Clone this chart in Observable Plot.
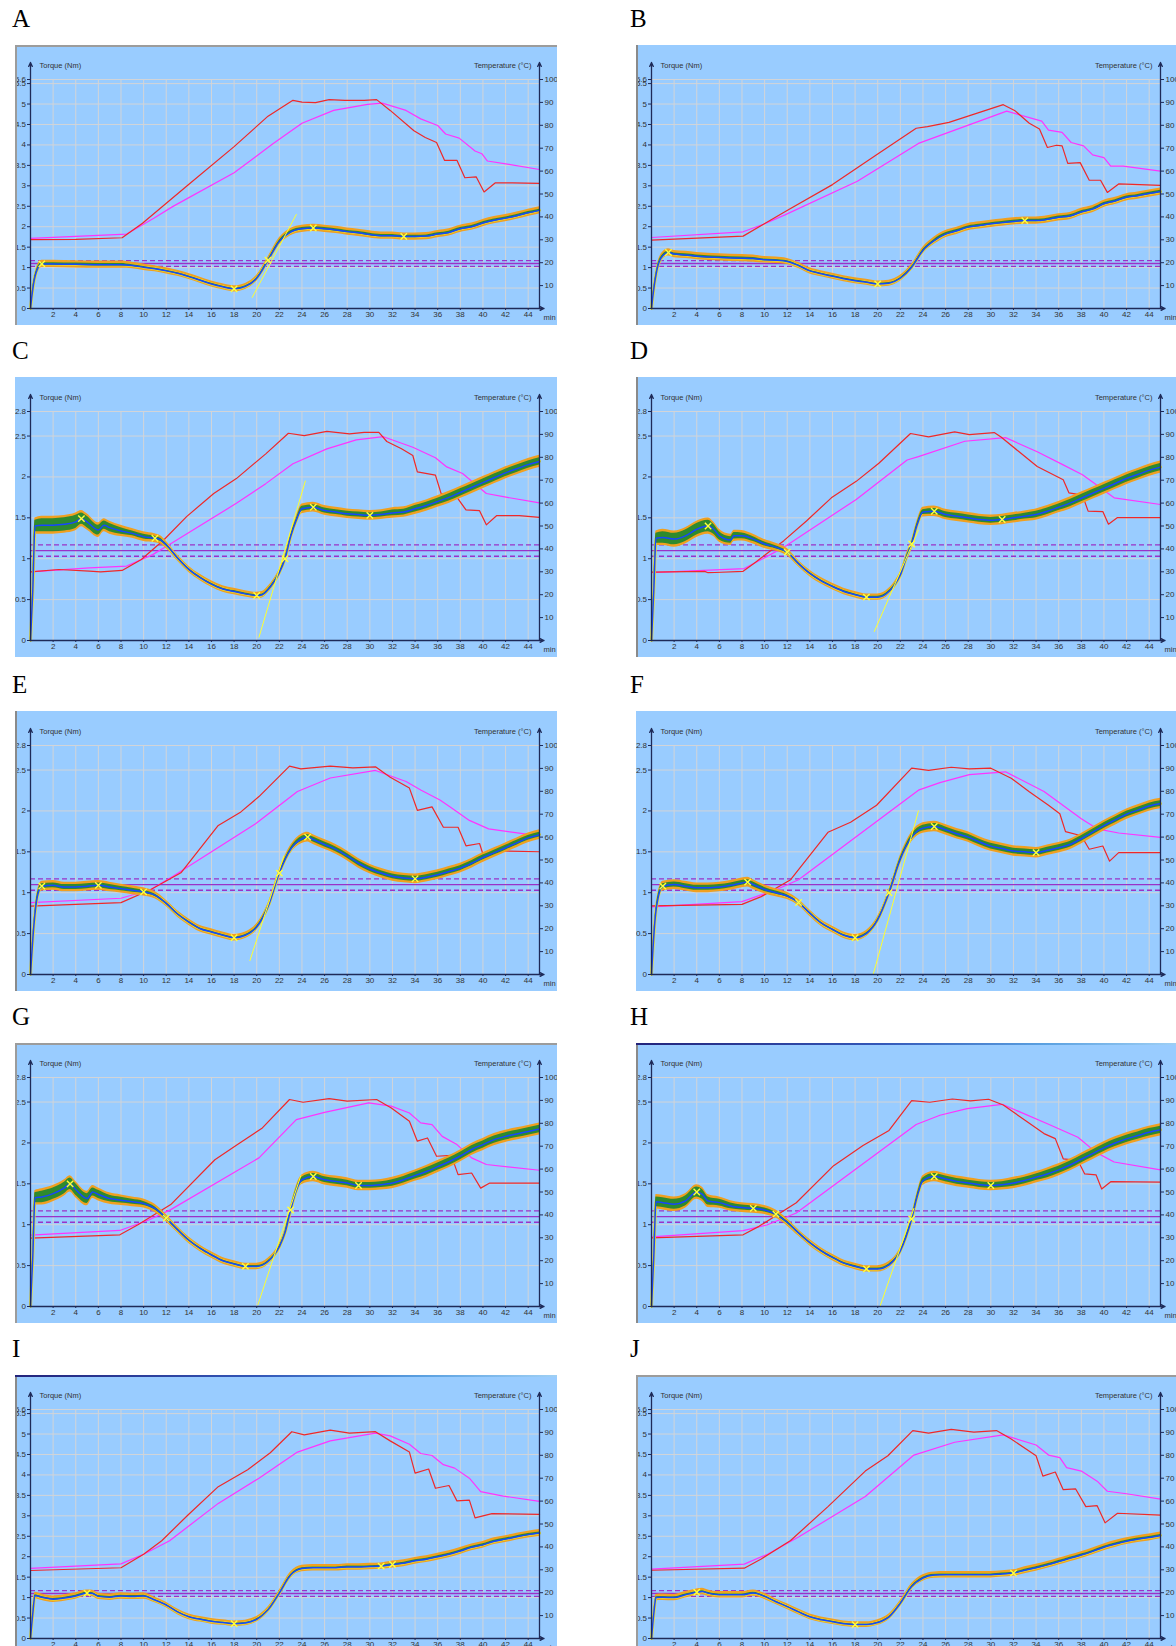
<!DOCTYPE html>
<html>
<head>
<meta charset="utf-8">
<script src="https://cdn.jsdelivr.net/npm/d3@7"></script>
<script src="https://cdn.jsdelivr.net/npm/@observablehq/plot@0.6"></script>
<style>
  html, body { margin: 0; padding: 0; background: #fff; overflow: hidden; }
  #page { position: relative; width: 1176px; height: 1646px; overflow: hidden; }
  .letter { position: absolute; font: 25px/25px "Liberation Serif", "Times New Roman", serif; color: #000; }
  .box { position: absolute; width: 542px; height: 280px; overflow: hidden; background: #99ccff; }
  .box svg { display: block; overflow: hidden; }
  .edge { position: absolute; left: 0; top: 0; right: 0; bottom: 0; pointer-events: none; }
  .edge.gray { box-shadow: inset 2px 2px 0 0 #9c9c9c; }
  .edge.left { box-shadow: inset 2px 0 0 0 #8a8a8a; }
  .edge.navy { border-top: 2px solid transparent; border-image: linear-gradient(90deg, #23237a, #3357b8 45%, #5aa0e0 75%, #9fd0f5) 1; box-shadow: inset 2px 0 0 0 #8a8a8a; }
</style>
</head>
<body>
<div id="page"></div>
<script>
// Axis ticks
const X_TICKS = [2, 4, 6, 8, 10, 12, 14, 16, 18, 20, 22, 24, 26, 28, 30, 32, 34, 36, 38, 40, 42, 44];
const TORQUE_TICKS_HIGH = [0, 0.5, 1, 1.5, 2, 2.5, 3, 3.5, 4, 4.5, 5, 5.5, 5.6];
const TORQUE_TICKS_LOW = [0, 0.5, 1, 1.5, 2, 2.5, 2.8];
const TEMP_TICKS = [10, 20, 30, 40, 50, 60, 70, 80, 90, 100];

// Target torque band (Nm)
const TARGET = [1.1];
const TOLERANCE = [1.03, 1.17];

// Torque series: [minute, torque Nm, noise half-width Nm]
const torqueA = [[0,0,0],[0.1,0.25,0.02],[0.2,0.47,0.03],[0.5,0.88,0.03],[1,1.09,0.03],[2,1.09,0.03],[4,1.08,0.03],[6,1.07,0.03],[8,1.07,0.03],[9,1.05,0.02],[10,1.01,0.02],[11,0.97,0.015],[12,0.92,0.015],[13,0.86,0.015],[14,0.78,0.015],[15,0.69,0.015],[16,0.6,0.015],[17,0.53,0.015],[18,0.48,0.015],[19,0.54,0.015],[20,0.74,0.015],[21,1.18,0.02],[22,1.64,0.03],[23,1.87,0.03],[24,1.95,0.03],[25,1.97,0.03],[26,1.95,0.03],[27,1.92,0.03],[28,1.88,0.03],[29,1.85,0.03],[30,1.81,0.03],[31,1.78,0.03],[32,1.78,0.03],[33,1.76,0.03],[34,1.76,0.03],[35,1.77,0.03],[36,1.82,0.03],[37,1.86,0.03],[38,1.95,0.03],[39,2.0,0.03],[40,2.09,0.03],[41,2.16,0.03],[42,2.21,0.03],[43,2.27,0.03],[44,2.34,0.03],[45,2.4,0.03]];
const torqueB = [[0,0,0],[0.1,0.25,0.02],[0.2,0.47,0.03],[0.5,0.97,0.03],[1,1.29,0.03],[1.5,1.37,0.03],[2,1.33,0.03],[3,1.31,0.03],[4,1.28,0.03],[6,1.25,0.03],[8,1.23,0.03],[9,1.22,0.03],[10,1.19,0.02],[11,1.18,0.02],[12,1.15,0.015],[13,1.05,0.015],[14,0.92,0.015],[15,0.85,0.015],[16,0.79,0.015],[17,0.73,0.015],[18,0.68,0.015],[19,0.64,0.015],[20,0.6,0.015],[21,0.62,0.015],[22,0.74,0.015],[23,1.01,0.015],[24,1.42,0.02],[25,1.66,0.03],[26,1.82,0.03],[27,1.9,0.03],[28,1.99,0.03],[29,2.03,0.03],[30,2.07,0.03],[31,2.1,0.03],[32,2.13,0.03],[33,2.15,0.03],[34,2.15,0.03],[35,2.18,0.03],[36,2.23,0.03],[37,2.26,0.03],[38,2.36,0.03],[39,2.43,0.03],[40,2.56,0.03],[41,2.63,0.03],[42,2.72,0.03],[43,2.76,0.03],[44,2.81,0.03],[45,2.86,0.03]];
const torqueC = [[0,0,0],[0.2,0.6,0.04],[0.4,1.4,0.07],[1,1.41,0.08],[2,1.41,0.08],[3,1.42,0.08],[4,1.45,0.08],[4.5,1.49,0.07],[5,1.45,0.07],[6,1.35,0.06],[6.5,1.41,0.05],[7,1.38,0.05],[8,1.34,0.04],[9,1.31,0.03],[10,1.27,0.03],[11,1.25,0.025],[11.5,1.23,0.02],[12,1.17,0.015],[13,1.01,0.01],[14,0.87,0.01],[15,0.77,0.01],[16,0.69,0.01],[17,0.63,0.01],[18,0.6,0.01],[19,0.57,0.01],[20,0.55,0.01],[20.5,0.56,0.01],[21,0.62,0.01],[21.5,0.71,0.01],[22,0.83,0.01],[22.5,1.0,0.015],[23,1.27,0.015],[23.5,1.47,0.02],[24,1.61,0.03],[25,1.63,0.03],[26,1.59,0.03],[27,1.57,0.03],[28,1.55,0.03],[29,1.54,0.03],[30,1.53,0.03],[31,1.54,0.03],[32,1.56,0.035],[33,1.57,0.035],[34,1.61,0.04],[35,1.65,0.04],[36,1.7,0.04],[37,1.75,0.045],[38,1.81,0.045],[39,1.87,0.045],[40,1.93,0.045],[41,1.99,0.045],[42,2.05,0.045],[43,2.1,0.045],[44,2.15,0.045],[45,2.19,0.045]];
const torqueD = [[0,0,0],[0.2,0.6,0.04],[0.4,1.25,0.06],[1,1.26,0.07],[2,1.24,0.07],[3,1.28,0.07],[4,1.36,0.07],[5,1.4,0.07],[5.5,1.36,0.06],[6,1.28,0.05],[7,1.23,0.04],[7.3,1.28,0.04],[8,1.28,0.035],[9,1.24,0.03],[10,1.18,0.025],[11,1.14,0.02],[12,1.08,0.015],[13,0.94,0.01],[14,0.82,0.01],[15,0.73,0.01],[16,0.66,0.01],[17,0.6,0.01],[18,0.56,0.01],[19,0.53,0.01],[20,0.53,0.01],[21,0.6,0.01],[21.5,0.68,0.01],[22,0.8,0.01],[22.5,1.0,0.015],[23,1.18,0.02],[23.5,1.42,0.025],[24,1.57,0.03],[25,1.58,0.035],[26,1.54,0.035],[27,1.52,0.035],[28,1.5,0.035],[29,1.48,0.035],[30,1.47,0.035],[31,1.48,0.035],[32,1.5,0.035],[33,1.52,0.035],[34,1.54,0.04],[35,1.58,0.04],[36,1.63,0.04],[37,1.68,0.045],[38,1.74,0.045],[39,1.8,0.045],[40,1.86,0.045],[41,1.92,0.045],[42,1.98,0.045],[43,2.03,0.045],[44,2.08,0.045],[45,2.12,0.045]];
const torqueE = [[0,0,0],[0.3,0.6,0.02],[0.6,0.95,0.03],[1,1.08,0.03],[2,1.09,0.03],[3,1.07,0.03],[4,1.07,0.03],[5,1.08,0.03],[6,1.09,0.03],[7,1.07,0.03],[8,1.05,0.025],[9,1.03,0.025],[10,1.01,0.02],[11,0.97,0.015],[12,0.87,0.01],[13,0.74,0.01],[14,0.64,0.01],[15,0.56,0.01],[16,0.52,0.01],[17,0.48,0.01],[18,0.45,0.01],[19,0.48,0.01],[20,0.58,0.01],[21,0.83,0.01],[22,1.24,0.015],[23,1.53,0.02],[24,1.66,0.03],[24.5,1.68,0.03],[25,1.65,0.03],[26,1.59,0.03],[27,1.53,0.03],[28,1.45,0.03],[29,1.36,0.03],[30,1.29,0.03],[31,1.24,0.03],[32,1.2,0.03],[33,1.18,0.03],[34,1.17,0.03],[35,1.19,0.03],[36,1.22,0.03],[37,1.26,0.03],[38,1.3,0.03],[39,1.36,0.03],[40,1.43,0.03],[41,1.49,0.03],[42,1.55,0.03],[43,1.61,0.03],[44,1.67,0.03],[45,1.71,0.03]];
const torqueF = [[0,0,0],[0.3,0.65,0.02],[0.6,0.95,0.03],[1,1.08,0.03],[2,1.1,0.03],[3,1.08,0.03],[4,1.06,0.03],[5,1.06,0.03],[6,1.07,0.03],[7,1.09,0.03],[8,1.12,0.03],[8.5,1.13,0.03],[9,1.1,0.03],[10,1.04,0.025],[11,1.0,0.02],[12,0.96,0.015],[13,0.88,0.01],[14,0.75,0.01],[15,0.63,0.01],[16,0.55,0.01],[17,0.48,0.01],[18,0.45,0.01],[19,0.5,0.01],[20,0.67,0.01],[21,1.0,0.01],[22,1.41,0.02],[23,1.68,0.03],[24,1.79,0.035],[25,1.81,0.035],[26,1.77,0.035],[27,1.72,0.035],[28,1.68,0.035],[29,1.62,0.035],[30,1.57,0.035],[31,1.54,0.035],[32,1.51,0.035],[33,1.5,0.035],[34,1.49,0.035],[35,1.52,0.035],[36,1.55,0.035],[37,1.59,0.035],[38,1.66,0.035],[39,1.74,0.035],[40,1.82,0.035],[41,1.89,0.035],[42,1.96,0.035],[43,2.01,0.035],[44,2.06,0.035],[45,2.09,0.035]];
const torqueG = [[0,0,0],[0.2,0.6,0.04],[0.4,1.33,0.06],[1,1.34,0.07],[2,1.38,0.07],[3,1.45,0.07],[3.5,1.5,0.07],[4,1.43,0.07],[5,1.32,0.06],[5.5,1.4,0.05],[6,1.37,0.05],[7,1.32,0.04],[8,1.3,0.035],[9,1.28,0.03],[10,1.26,0.025],[11,1.2,0.02],[12,1.08,0.015],[13,0.94,0.01],[14,0.81,0.01],[15,0.71,0.01],[16,0.63,0.01],[17,0.56,0.01],[18,0.52,0.01],[19,0.49,0.01],[20,0.49,0.01],[21,0.55,0.01],[22,0.73,0.01],[22.5,0.9,0.015],[23,1.18,0.02],[23.5,1.42,0.025],[24,1.55,0.03],[25,1.59,0.035],[26,1.55,0.035],[27,1.53,0.035],[28,1.51,0.035],[29,1.48,0.035],[30,1.48,0.035],[31,1.49,0.035],[32,1.51,0.04],[33,1.55,0.04],[34,1.6,0.04],[35,1.65,0.045],[36,1.71,0.045],[37,1.77,0.045],[38,1.84,0.045],[39,1.92,0.045],[40,1.98,0.045],[41,2.04,0.045],[42,2.08,0.045],[43,2.11,0.045],[44,2.14,0.045],[45,2.17,0.045]];
const torqueH = [[0,0,0],[0.2,0.6,0.04],[0.4,1.28,0.06],[1,1.27,0.06],[2,1.25,0.06],[3,1.29,0.06],[4,1.4,0.06],[4.5,1.37,0.06],[5,1.29,0.05],[6,1.27,0.04],[7,1.23,0.035],[8,1.21,0.03],[9,1.2,0.03],[10,1.18,0.025],[11,1.13,0.02],[12,1.03,0.015],[13,0.9,0.01],[14,0.78,0.01],[15,0.68,0.01],[16,0.6,0.01],[17,0.53,0.01],[18,0.49,0.01],[19,0.46,0.01],[20,0.46,0.01],[21,0.51,0.01],[22,0.68,0.01],[22.5,0.85,0.015],[23,1.07,0.02],[23.5,1.35,0.025],[24,1.54,0.03],[25,1.59,0.035],[26,1.56,0.035],[27,1.53,0.035],[28,1.51,0.035],[29,1.49,0.035],[30,1.48,0.035],[31,1.49,0.035],[32,1.51,0.04],[33,1.54,0.04],[34,1.58,0.04],[35,1.62,0.045],[36,1.67,0.045],[37,1.73,0.045],[38,1.8,0.045],[39,1.87,0.045],[40,1.94,0.045],[41,2.0,0.045],[42,2.05,0.045],[43,2.09,0.045],[44,2.13,0.045],[45,2.16,0.045]];
const torqueI = [[0,0,0],[0.2,0.6,0.02],[0.4,1.05,0.02],[1,1.01,0.02],[2,0.96,0.02],[3,0.99,0.02],[4,1.04,0.02],[5,1.11,0.02],[5.5,1.1,0.02],[6,1.03,0.02],[7,1.01,0.02],[8,1.04,0.02],[9,1.03,0.02],[10,1.04,0.02],[11,0.94,0.01],[12,0.82,0.01],[13,0.65,0.01],[14,0.53,0.01],[15,0.47,0.01],[16,0.42,0.01],[17,0.39,0.01],[18,0.36,0.01],[19,0.38,0.01],[20,0.47,0.01],[21,0.7,0.01],[22,1.11,0.01],[23,1.55,0.015],[24,1.71,0.02],[25,1.73,0.02],[26,1.73,0.02],[27,1.73,0.02],[28,1.75,0.02],[29,1.75,0.02],[30,1.76,0.02],[31,1.77,0.02],[32,1.81,0.025],[33,1.84,0.025],[34,1.9,0.025],[35,1.94,0.025],[36,2.0,0.025],[37,2.06,0.025],[38,2.14,0.025],[39,2.23,0.025],[40,2.29,0.025],[41,2.38,0.025],[42,2.43,0.025],[43,2.49,0.025],[44,2.54,0.025],[45,2.58,0.025]];
const torqueJ = [[0,0,0],[0.2,0.6,0.02],[0.4,1.0,0.02],[1,1.01,0.02],[2,1.0,0.02],[3,1.07,0.02],[4,1.13,0.02],[4.5,1.15,0.02],[5,1.11,0.02],[6,1.07,0.02],[7,1.07,0.02],[8,1.07,0.02],[9,1.11,0.02],[10,1.03,0.015],[11,0.9,0.01],[12,0.78,0.01],[13,0.65,0.01],[14,0.53,0.01],[15,0.46,0.01],[16,0.41,0.01],[17,0.36,0.01],[18,0.34,0.01],[19,0.34,0.01],[20,0.39,0.01],[21,0.53,0.01],[22,0.86,0.01],[23,1.27,0.015],[24,1.48,0.02],[25,1.55,0.02],[26,1.56,0.02],[27,1.56,0.02],[28,1.56,0.02],[29,1.56,0.02],[30,1.56,0.02],[31,1.58,0.02],[32,1.6,0.02],[33,1.67,0.025],[34,1.73,0.025],[35,1.8,0.025],[36,1.88,0.025],[37,1.96,0.025],[38,2.04,0.025],[39,2.13,0.025],[40,2.23,0.025],[41,2.31,0.025],[42,2.38,0.025],[43,2.43,0.025],[44,2.47,0.025],[45,2.52,0.025]];

// Minutes at which the characteristic torque points are flagged
const flagsA = [1, 18, 21, 25, 33];
const flagsB = [1.5, 20, 33];
const flagsC = [4.5, 11, 20, 22.5, 25, 30];
const flagsD = [5, 12, 19, 23, 25, 31];
const flagsE = [1, 6, 10, 18, 22, 24.5, 34];
const flagsF = [1, 8.5, 13, 18, 21, 25, 34];
const flagsG = [3.5, 12, 19, 23, 25, 29];
const flagsH = [4, 9, 11, 19, 23, 25, 30];
const flagsI = [5, 18, 31, 32];
const flagsJ = [4, 18, 32];

// Temperature series (red and magenta traces): [minute, °C]
const redA = [[0,30.1],[4,30.2],[8.1,30.9],[9.9,37.2],[13.9,53.8],[18,70.7],[21,84],[23.2,90.9],[24,90.1],[25.2,89.9],[26.4,91.2],[27.8,90.9],[29.5,90.9],[30.6,91.2],[31.8,86.5],[33.9,77.6],[34.9,74.7],[35.9,72.5],[36.6,64.7],[37.7,64.7],[38.4,57.1],[39.4,57.5],[40.1,50.9],[41.1,54.9],[42.6,54.9],[45,54.6]];
const magA = [[0,30.6],[8.5,32.5],[10.9,39.4],[12.6,44.6],[18,59.3],[21.4,71.8],[24,80.9],[26.8,86.5],[29.8,89.1],[31.1,89.7],[33.2,86.5],[34.5,82.8],[36,79.9],[36.7,76.2],[37.9,74.4],[39.3,68.8],[39.9,67.6],[40.4,64.4],[42.3,62.9],[45,60.7]];
const redB = [[0,29.9],[8.1,31.6],[9.9,36.8],[12.1,43.1],[16,54.1],[19.9,67.1],[23.4,78.7],[24.4,79.4],[26.3,81.3],[31.1,89],[32.1,86.5],[33.4,80.9],[34.3,78.4],[35,70.3],[35.8,71.3],[36.3,71],[36.8,63.4],[37.9,63.7],[38.7,56],[39.7,56],[40.3,50.7],[41.3,54.4],[45,53.8]];
const magB = [[0,31],[8.1,33.5],[9.9,36.8],[11.8,40.9],[18.2,55.6],[23.6,72.1],[31.4,86.2],[34.5,81.8],[35.1,77.9],[36.3,76.9],[37.1,72.5],[38.2,71],[39,67.1],[40,65.9],[40.6,62.2],[41.7,62.2],[45,60]];
const redC = [[0,30],[2.5,31],[5.2,30.3],[6.2,30],[8.1,30.6],[9.8,35.4],[11.8,44],[13.8,54.1],[16.2,64.2],[18.2,70.7],[20.8,81.5],[22.8,90.5],[24.2,89.5],[26.2,91.3],[28.2,90.2],[29.5,90.9],[30.8,90.9],[31.5,86.9],[32.8,83.7],[33.8,80.8],[34.2,73.6],[35.8,72.2],[36.3,64.2],[37.5,63.9],[38.5,57],[39.7,56.7],[40.3,50.5],[41.2,54.5],[43.2,54.5],[45,53.8]];
const magC = [[0,30],[5.2,31.7],[8.5,32.5],[10.8,37.5],[12.5,42.6],[18.2,59.9],[20.8,68.5],[23.2,77.2],[26.2,83.7],[28.8,87.6],[31.2,89],[33.8,84.4],[35.8,79.8],[36.8,75.8],[38.2,72.9],[39.2,68.8],[40.3,64.2],[41.8,62.8],[45,60.1]];
const redD = [[0,29.9],[4.7,30.2],[5,29.6],[5.6,29.7],[8.1,30.2],[9.2,34.2],[11.7,43.6],[13.7,52.2],[15.9,62.3],[18.1,69.5],[20.1,77.4],[22.9,90.4],[24.5,88.9],[26.8,91.1],[28.1,89.9],[30.3,90.8],[30.9,88.9],[32.5,82.4],[34.1,76],[36.4,70.2],[36.9,64.5],[38.1,63.5],[38.6,56.5],[39.9,56.3],[40.4,50.8],[41.2,53.7],[45,53.7]];
const magD = [[0,29.6],[8.2,31.4],[10.1,36.4],[11.7,40.7],[18.1,61.6],[22.6,78.8],[23.6,80.3],[27.7,87],[31.3,88.6],[34.1,82.4],[36.4,76.7],[38.1,72.4],[39.3,68.1],[40.9,62.3],[45,59.4]];
const redE = [[0,29.9],[8,31.4],[10.6,37],[13.3,44.4],[16.6,65.1],[18.6,71],[20.2,77.7],[22.9,91],[23.9,89.8],[26.5,91],[28.5,90.2],[30.5,90.7],[31.8,86.1],[33.5,81.4],[34.2,71.7],[35.5,73.2],[36.5,64.3],[37.8,64.3],[38.5,56.2],[39.7,57.2],[40.1,51],[41.1,54],[45,53.6]];
const magE = [[0,31.4],[8,33.3],[10.6,37],[12.6,42.9],[19.9,65.8],[23.6,79.9],[26.5,85.8],[30.5,89.1],[33.2,84.3],[34.5,80.6],[36.2,76.2],[37.2,72.8],[38.8,67.3],[40.5,63.6],[45,60.5]];
const redF = [[0,30],[8,30.6],[9.7,34],[12.3,41.4],[15.6,62.1],[17.6,66.5],[19.9,73.9],[23,90.1],[24.5,89.1],[26.5,90.5],[28.1,89.8],[30,90.1],[31.8,85.7],[33.4,79.8],[35.1,73.9],[36.1,70.2],[36.6,62.4],[38,60.6],[38.7,54.7],[39.9,56.1],[40.5,49.5],[41.3,53.2],[45,53.2]];
const magF = [[0,29.5],[8,31.8],[11,37],[13,41.4],[23.6,80.5],[25.5,83.8],[28.1,87.3],[31.3,88.5],[34.7,79.9],[38,68],[39.4,63.6],[41.3,61.8],[45,59.9]];
const redG = [[0,29.9],[7.9,31.3],[9.5,35.7],[12.4,44.5],[16.3,64.1],[18.3,70.7],[20.5,78],[22.9,90.4],[24.1,89.2],[26.4,90.8],[28,89.7],[30.6,90.4],[31.9,86.7],[33.5,80.9],[34.2,72.2],[35.1,73.6],[35.9,65.6],[37.2,66],[37.8,57.6],[39,58.3],[39.8,51.7],[40.6,53.9],[45,53.9]];
const magG = [[0,31.2],[7.9,33.2],[10.5,37.9],[12.4,42.3],[20.2,64.9],[23.5,81.6],[26,84.8],[29.9,88.9],[31.9,87.5],[33.5,84.5],[34.5,80.2],[35.5,79.4],[36.4,74.3],[37.7,70.7],[39,64.9],[40.3,62],[45,59.5]];
const redH = [[0,30],[8.1,31.3],[9.5,35],[12.8,45.3],[16.1,61.5],[18.7,70.3],[21,76.9],[23,89.9],[24.6,89.2],[26.6,90.6],[28.2,89.8],[29.8,90.5],[31.1,88],[32.8,82.1],[34.7,75.5],[35.7,73.3],[36.4,64.5],[37.7,63.8],[38.3,57.9],[39.3,57.5],[39.8,51.3],[40.6,54.5],[45,54.3]];
const magH = [[0,30.4],[8.1,33.1],[10.2,35.6],[12.8,40.8],[23.4,79.5],[25.5,83.5],[27.9,86.4],[31,88.3],[35,79.8],[37.7,73.9],[39.3,67.3],[40.9,63.1],[45,59.7]];
const redI = [[0,29.7],[8,30.9],[10,36.8],[11.6,42.7],[13.9,53.8],[16.6,66.3],[19.2,73.7],[21.2,81.1],[23.1,90.3],[24.2,88.9],[26.5,91],[28.2,89.7],[30.5,90.3],[31.8,86.3],[33.5,81.4],[34,72.2],[35.2,74],[35.8,65.6],[37,66.8],[37.7,60.1],[38.8,60.4],[39.3,52.7],[40.8,54.5],[45,54.2]];
const magI = [[0,30.6],[8,32.6],[10,36.8],[12.3,42.7],[16.6,59],[20.2,70],[23.6,81.4],[26.5,86.3],[30.5,89.7],[31.8,88.5],[33.5,84.8],[34.5,80.8],[35.5,79.9],[36.5,75.9],[37.5,74.4],[38.8,70],[39.8,64.1],[41.8,62.2],[45,59.9]];
const redJ = [[0,29.8],[8.2,30.7],[9.7,34.7],[12.3,42.8],[15.6,57.6],[18.9,73.1],[20.9,79.8],[23.1,90.8],[24.5,89.7],[26.5,91.3],[28.5,90.1],[30.5,90.8],[31.8,87.1],[34,79.8],[34.6,70.9],[35.7,72.7],[36.4,65],[37.5,65.3],[38.4,57.6],[39.4,58],[40.1,50.5],[41.2,54.7],[45,53.9]];
const magJ = [[0,30.3],[8.2,32.5],[10.3,36.9],[13,44.3],[18.9,62],[23.2,80.1],[26.8,85.7],[31.1,88.9],[34,84.5],[35.1,80.1],[36.1,79],[36.7,74.6],[38,73.1],[39.4,68.7],[40.3,64.3],[42,63.2],[45,60.9]];

// Slope (tangent) lines at the torque rise: [minute, torque Nm]
const tangentA = [[19.6,0.27],[23.5,2.3]];
const tangentC = [[20.2,0.04],[24.3,1.95]];
const tangentD = [[19.7,0.11],[23.6,1.35]];
const tangentE = [[19.4,0.17],[22.4,1.45]];
const tangentF = [[19.6,0.0],[23.6,2.0]];
const tangentG = [[20.1,0.02],[23.9,1.6]];
const tangentH = [[20.2,0.0],[23.2,1.2]];

const PANELS = [
  {letter: "A", yMax: 5.6, ticks: TORQUE_TICKS_HIGH, torque: torqueA, red: redA, mag: magA, tangent: tangentA, flags: flagsA, edge: "gray"},
  {letter: "B", yMax: 5.6, ticks: TORQUE_TICKS_HIGH, torque: torqueB, red: redB, mag: magB, tangent: [], flags: flagsB, edge: "left"},
  {letter: "C", yMax: 2.8, ticks: TORQUE_TICKS_LOW, torque: torqueC, red: redC, mag: magC, tangent: tangentC, flags: flagsC, edge: ""},
  {letter: "D", yMax: 2.8, ticks: TORQUE_TICKS_LOW, torque: torqueD, red: redD, mag: magD, tangent: tangentD, flags: flagsD, edge: "left"},
  {letter: "E", yMax: 2.8, ticks: TORQUE_TICKS_LOW, torque: torqueE, red: redE, mag: magE, tangent: tangentE, flags: flagsE, edge: "left"},
  {letter: "F", yMax: 2.8, ticks: TORQUE_TICKS_LOW, torque: torqueF, red: redF, mag: magF, tangent: tangentF, flags: flagsF, edge: ""},
  {letter: "G", yMax: 2.8, ticks: TORQUE_TICKS_LOW, torque: torqueG, red: redG, mag: magG, tangent: tangentG, flags: flagsG, edge: "gray"},
  {letter: "H", yMax: 2.8, ticks: TORQUE_TICKS_LOW, torque: torqueH, red: redH, mag: magH, tangent: tangentH, flags: flagsH, edge: "navy"},
  {letter: "I", yMax: 5.6, ticks: TORQUE_TICKS_HIGH, torque: torqueI, red: redI, mag: magI, tangent: [], flags: flagsI, edge: "navy"},
  {letter: "J", yMax: 5.6, ticks: TORQUE_TICKS_HIGH, torque: torqueJ, red: redJ, mag: magJ, tangent: [], flags: flagsJ, edge: "gray"}
];

// Colours and type
const BG = "#99ccff";
const GRID = "#d2d4d8";
const AXIS = "#1e2a58";
const INK = "#333333";
const RED = "#f02828";
const MAGENTA = "#ff33ff";
const PURPLE = "#9a32c8";
const ORANGE = "#f0a020";
const YELLOW = "#e8dc30";
const GREEN = "#2e8a2e";
const BLUE = "#1646ff";
const TANGENT = "#ffff30";
const FLAG = "#ffff40";
const FONT = "'Liberation Sans', Arial, sans-serif";

// Page layout
const BOX_W = 542, BOX_H = 280;
const MARGIN = {left: 15, right: 18, top: 34, bottom: 17};
const COL_X = [15, 636];
const LETTER_X = [12, 630];
const ROW_Y = [45, 377, 711, 1043, 1375];

const tx = d => d[0];

function drawPanel(p) {
  const k = p.yMax / 100;                 // °C → torque axis units
  const plotH = BOX_H - MARGIN.top - MARGIN.bottom;
  const pad = 2.4 * p.yMax / plotH;       // orange rim around the torque trace
  const top = p.yMax * (1 + 17 / plotH);  // axis arrows reach above the frame
  const axisLines = [
    {x1: 0, y1: 0, x2: 0, y2: top},
    {x1: 45, y1: 0, x2: 45, y2: top},
    {x1: 0, y1: 0, x2: 45.4, y2: 0}
  ];
  const flagged = p.torque.filter(d => p.flags.includes(d[0]));
  return Plot.plot({
    width: BOX_W,
    height: BOX_H,
    marginLeft: MARGIN.left,
    marginRight: MARGIN.right,
    marginTop: MARGIN.top,
    marginBottom: MARGIN.bottom,
    x: {domain: [0, 45]},
    y: {domain: [0, p.yMax]},
    style: {background: BG, fontFamily: FONT, fontSize: "8px", color: INK, overflow: "hidden"},
    marks: [
      Plot.gridX(X_TICKS, {stroke: GRID, strokeOpacity: 1, strokeWidth: 1}),
      Plot.gridY(p.ticks, {stroke: GRID, strokeOpacity: 1, strokeWidth: 1}),
      Plot.ruleY(TOLERANCE, {stroke: PURPLE, strokeWidth: 1.3, strokeDasharray: "5,3"}),
      Plot.ruleY(TARGET, {stroke: PURPLE, strokeWidth: 1.3}),
      Plot.line(p.mag, {x: tx, y: d => d[1] * k, stroke: MAGENTA, strokeWidth: 1.2}),
      Plot.line(p.red, {x: tx, y: d => d[1] * k, stroke: RED, strokeWidth: 1.2}),
      Plot.areaY(p.torque, {x: tx, y1: d => d[1] - d[2] - pad, y2: d => d[1] + d[2] + pad, fill: ORANGE, curve: "monotone-x"}),
      Plot.line(p.torque, {x: tx, y: d => d[1], stroke: YELLOW, strokeWidth: 3, curve: "monotone-x"}),
      Plot.areaY(p.torque, {x: tx, y1: d => d[1] - d[2], y2: d => d[1] + d[2], fill: GREEN, curve: "monotone-x"}),
      Plot.line(p.torque, {x: tx, y: d => d[1], stroke: BLUE, strokeWidth: 1.5, curve: "monotone-x"}),
      Plot.line(p.tangent, {x: tx, y: d => d[1], stroke: TANGENT, strokeWidth: 1}),
      Plot.dot(flagged, {x: tx, y: d => d[1], symbol: "times", r: 3, stroke: FLAG, strokeWidth: 1.4}),
      Plot.axisY(p.ticks, {anchor: "left", tickSize: 3, tickPadding: 1.5, stroke: AXIS, fill: INK, tickFormat: d => `${d}`, label: null}),
      Plot.axisY(TEMP_TICKS.map(t => t * k), {anchor: "right", tickSize: 3, tickPadding: 2, stroke: AXIS, fill: INK, tickFormat: d => `${Math.round(d / k)}`, label: null}),
      Plot.axisX(X_TICKS, {anchor: "bottom", tickSize: 2, tickPadding: 1, stroke: AXIS, fill: INK, tickFormat: d => `${d}`, label: null}),
      Plot.arrow(axisLines, {x1: "x1", y1: "y1", x2: "x2", y2: "y2", stroke: AXIS, strokeWidth: 1.3, headLength: 5, headAngle: 50}),
      Plot.text(["Torque (Nm)"], {text: d => d, frameAnchor: "top-left", dx: 9, dy: -14, textAnchor: "start", lineAnchor: "middle", fontSize: 7.5, fill: INK}),
      Plot.text(["Temperature (°C)"], {text: d => d, frameAnchor: "top-right", dx: -8, dy: -14, textAnchor: "end", lineAnchor: "middle", fontSize: 7.5, fill: INK}),
      Plot.text(["min"], {text: d => d, frameAnchor: "bottom-right", dx: 4, dy: 9, textAnchor: "start", lineAnchor: "middle", fontSize: 7.5, fill: INK})
    ]
  });
}

const page = document.getElementById("page");
PANELS.forEach((p, i) => {
  const col = i % 2, row = Math.floor(i / 2);
  const boxTop = ROW_Y[row];

  const letter = document.createElement("div");
  letter.className = "letter";
  letter.textContent = p.letter;
  letter.style.left = LETTER_X[col] + "px";
  letter.style.top = (boxTop - 39) + "px";
  page.appendChild(letter);

  const box = document.createElement("div");
  box.className = "box";
  box.style.left = COL_X[col] + "px";
  box.style.top = boxTop + "px";
  box.appendChild(drawPanel(p));
  const edge = document.createElement("div");
  edge.className = "edge " + p.edge;
  box.appendChild(edge);
  page.appendChild(box);
});
</script>
</body>
</html>
